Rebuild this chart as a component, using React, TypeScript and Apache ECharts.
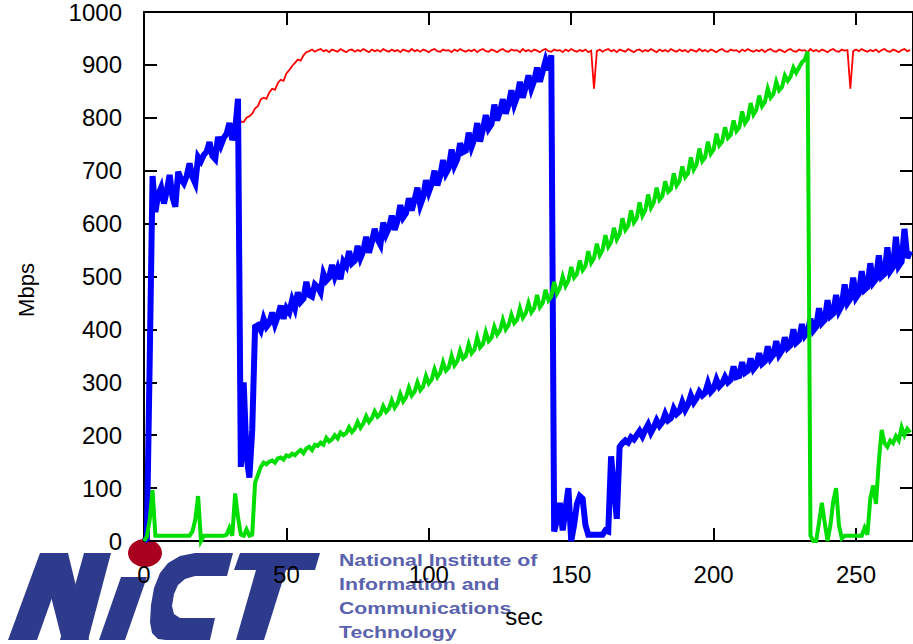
import React, { useEffect, useRef } from "react";
import * as echarts from "echarts";

// Sampling period of the throughput traces, seconds
const SAMPLE_SECONDS = 1;

// Flow 1 throughput (Mbps), one sample per second from t = 0
const blueMbps = [
  0, 5, 340, 690, 622, 655, 668, 638, 662, 692,
  650, 632, 698, 684, 676, 690, 714, 688, 676, 726,
  718, 730, 736, 754, 728, 722, 764, 748, 762, 770,
  790, 758, 776, 836, 140, 300, 160, 120, 210, 405,
  408, 398, 420, 405, 412, 432, 410, 425, 445, 420,
  440, 432, 455, 440, 470, 452, 458, 490, 465, 462,
  485, 480, 470, 505, 492, 498, 522, 500, 515, 495,
  528, 520, 548, 525, 530, 558, 535, 548, 575, 545,
  565, 590, 570, 560, 602, 580, 592, 615, 588, 605,
  635, 612, 620, 648, 625, 645, 668, 635, 650, 682,
  660, 675, 700, 672, 690, 720, 695, 705, 740, 710,
  722, 752, 735, 738, 772, 745, 760, 790, 755, 778,
  805, 780, 788, 825, 795, 812, 835, 808, 825, 852,
  825, 840, 868, 838, 858, 880, 855, 870, 895, 868,
  888, 908, 890, 918, 18, 40, 72, 20, 60, 100,
  0, 30, 70, 85, 80, 30, 12, 12, 12, 12,
  12, 12, 20, 18, 160, 100, 42, 178, 185, 190,
  186, 196, 192, 200, 208, 198, 210, 220, 205, 215,
  228, 218, 225, 240, 228, 232, 250, 240, 245, 262,
  248, 258, 275, 262, 270, 282, 275, 280, 298, 282,
  288, 305, 292, 298, 310, 300, 305, 330, 310, 312,
  338, 318, 322, 345, 325, 332, 355, 335, 340, 368,
  345, 352, 378, 352, 360, 385, 365, 370, 400, 375,
  380, 410, 388, 395, 420, 398, 405, 440, 412, 418,
  455, 425, 430, 465, 435, 445, 485, 450, 458, 498,
  460, 468, 510, 475, 480, 525, 488, 495, 540, 500,
  505, 555, 510, 518, 575, 520, 528, 590, 535, 548,
];

// Flow 2 throughput (Mbps), one sample per second from t = 0
const greenMbps = [
  0, 8, 40, 96, 10, 10, 10, 10, 10, 10,
  10, 10, 10, 10, 10, 10, 10, 18, 40, 85,
  0, 10, 10, 10, 10, 10, 10, 10, 10, 12,
  25, 10, 90, 45, 12, 10, 22, 10, 12, 110,
  125, 140, 148, 145, 150, 152, 148, 156, 158, 154,
  162, 160, 165, 162, 168, 172, 166, 175, 178, 172,
  182, 180, 186, 182, 195, 188, 192, 200, 194, 205,
  200, 204, 215, 206, 212, 225, 214, 222, 236, 225,
  232, 245, 235, 240, 255, 244, 250, 266, 252, 260,
  278, 264, 272, 290, 275, 282, 300, 285, 292, 312,
  298, 305, 325, 310, 318, 338, 322, 328, 350, 332,
  340, 360, 345, 350, 372, 355, 362, 385, 366, 372,
  395, 378, 384, 405, 390, 398, 418, 400, 408, 428,
  412, 418, 440, 422, 430, 450, 432, 440, 465, 442,
  450, 475, 455, 462, 490, 468, 478, 500, 482, 492,
  518, 498, 505, 530, 512, 520, 548, 526, 535, 562,
  540, 550, 578, 556, 565, 592, 570, 580, 610, 588,
  596, 625, 602, 610, 640, 615, 625, 655, 630, 640,
  668, 645, 652, 680, 660, 665, 695, 672, 680, 708,
  688, 695, 725, 702, 712, 742, 718, 725, 755, 732,
  740, 770, 748, 755, 782, 762, 768, 795, 775, 782,
  812, 790, 798, 828, 806, 815, 842, 822, 830, 855,
  838, 845, 868, 852, 858, 880, 870, 878, 895, 885,
  895, 905, 910, 925, 10, 0, 0, 35, 72, 35,
  0, 30, 75, 100, 30, 5, 10, 10, 10, 10,
  10, 10, 10, 25, 12, 80, 105, 70, 150, 210,
  185, 178, 190, 185, 198, 190, 215, 200, 212, 205,
];

// Aggregate link throughput (Mbps), recorded from t = 33 s onward
const RED_START_SECONDS = 33;
const redMbps = [
  790, 793, 792, 800, 803, 808, 818, 822, 835, 838,
  836, 848, 855, 853, 866, 872, 870, 884, 890, 898,
  904, 910, 908, 918, 924,
  926, 929, 925, 928, 930, 926, 928, 924, 929, 927,
  925, 930, 927, 924, 928, 929, 925, 928, 926, 930,
  927, 924, 929, 926, 928, 925, 930, 927, 925, 929,
  926, 928, 924, 929, 927, 925, 930, 926, 928, 925,
  929, 927, 924, 928, 930, 926, 925, 929, 927, 928,
  924, 929, 926, 930, 927, 925, 928, 926, 929, 924,
  928, 930, 926, 925, 929, 927, 924, 928, 930, 926,
  925, 929, 927, 928, 924, 930, 926, 928, 925, 929,
  927, 924, 928, 930, 926, 925, 929, 927, 928, 924,
  929, 926, 930, 927, 925, 928, 926, 929, 924, 927,
  855, 926, 929, 925, 928, 930, 926, 928, 924, 929,
  927, 925, 930, 927, 924, 928, 929, 925, 928, 926,
  930, 927, 924, 929, 926, 928, 925, 930, 927, 925,
  929, 926, 928, 924, 929, 927, 925, 930, 926, 928,
  925, 929, 927, 924, 928, 930, 926, 925, 929, 927,
  928, 924, 929, 926, 930, 927, 925, 928, 926, 929,
  924, 928, 930, 926, 925, 929, 927, 924, 928, 930,
  926, 925, 929, 927, 928, 924, 930, 926, 928, 925,
  929, 927, 924, 928, 930, 926, 925, 929, 927, 928,
  855, 926, 929, 926, 930, 927, 925, 928, 926, 929,
  924, 928, 930, 926, 925, 929, 927, 924, 928, 930, 926, 928,
];

// Axis ranges and tick steps
const X_MAX = 270;
const X_STEP = 50;
const Y_MAX = 1000;
const Y_STEP = 100;

const AXIS_FONT = "Liberation Sans, Arial, Helvetica, sans-serif";

const toPairs = (values: number[], startSeconds: number) =>
  values.map((v, i) => [startSeconds + i * SAMPLE_SECONDS, v]);

// Institute logo drawn in the lower-left corner
const NAVY = "#2e3a8c";
const LOGO_TEXT = "#5a62ad";
const logoElements: any[] = [
  // N
  { type: "polygon", shape: { points: [[40, 553], [68, 553], [37, 640], [8, 640]] } },
  { type: "polygon", shape: { points: [[40, 553], [68, 553], [89, 640], [62, 640]] } },
  { type: "polygon", shape: { points: [[84, 553], [111, 553], [88, 640], [60, 640]] } },
  // i stem
  { type: "polygon", shape: { points: [[121, 577], [147, 577], [125, 640], [99, 640]] } },
  // C
  {
    type: "polygon",
    shape: {
      points: [
        [233, 553], [195, 553], [180, 556], [168, 563], [160, 573], [154, 588],
        [151, 605], [150, 622], [152, 633], [158, 639], [166, 640], [210, 640],
        [215, 618], [180, 618], [174, 614], [172, 606], [174, 594], [178, 585],
        [185, 579], [195, 576], [227, 576],
      ],
    },
  },
  // T
  { type: "polygon", shape: { points: [[240, 553], [320, 553], [315, 570], [234, 570]] } },
  { type: "polygon", shape: { points: [[256, 570], [286, 570], [264, 640], [236, 640]] } },
].map((el) => ({ ...el, z: -1, silent: true, style: { fill: NAVY } }));

const logoDot = {
  type: "ellipse",
  z: -1,
  silent: true,
  shape: { cx: 145, cy: 553, rx: 17, ry: 14 },
  style: { fill: "#a8001e" },
};

const logoLines = [
  "National Institute of",
  "Information and",
  "Communications",
  "Technology",
];
const logoLineY = [560, 584, 608, 632];

const logoTexts = logoLines.map((line, i) => ({
  type: "text",
  z: -1,
  silent: true,
  x: 339,
  y: logoLineY[i],
  scaleX: 1.25,
  style: {
    text: line,
    font: "bold 17px Liberation Sans, Arial, sans-serif",
    fill: LOGO_TEXT,
    textAlign: "left",
    textVerticalAlign: "middle",
  },
}));

export default function App() {
  const ref = useRef<HTMLDivElement>(null);

  useEffect(() => {
    if (!ref.current) return;
    const chart = echarts.init(ref.current, undefined, { renderer: "svg" });

    const axisLine = { show: true, onZero: false, lineStyle: { color: "#000", width: 2 } };
    const axisTick = { show: true, inside: true, length: 13, lineStyle: { color: "#000", width: 2 } };
    const plain = (v: number) => String(v);

    chart.setOption({
      animation: false,
      backgroundColor: "#fff",
      grid: { left: 144, top: 11, width: 774, height: 530, containLabel: false },
      xAxis: [
        {
          type: "value",
          position: "bottom",
          min: 0,
          max: X_MAX,
          interval: X_STEP,
          axisLine,
          axisTick,
          splitLine: { show: false },
          axisLabel: {
            margin: 21,
            fontSize: 24,
            color: "#000",
            fontFamily: AXIS_FONT,
            showMaxLabel: false,
            formatter: plain,
          },
        },
        {
          type: "value",
          position: "top",
          min: 0,
          max: X_MAX,
          interval: X_STEP,
          axisLine,
          axisTick,
          splitLine: { show: false },
          axisLabel: { show: false },
        },
      ],
      yAxis: [
        {
          type: "value",
          position: "left",
          min: 0,
          max: Y_MAX,
          interval: Y_STEP,
          axisLine,
          axisTick,
          splitLine: { show: false },
          axisLabel: { margin: 22, fontSize: 24, color: "#000", fontFamily: AXIS_FONT, formatter: plain },
        },
        {
          type: "value",
          position: "right",
          min: 0,
          max: Y_MAX,
          interval: Y_STEP,
          axisLine,
          axisTick,
          splitLine: { show: false },
          axisLabel: { show: false },
        },
      ],
      series: [
        {
          name: "total",
          type: "line",
          xAxisIndex: 0,
          yAxisIndex: 0,
          data: toPairs(redMbps, RED_START_SECONDS),
          showSymbol: false,
          clip: false,
          z: 2,
          lineStyle: { color: "#ff0000", width: 1.8, join: "miter" },
          emphasis: { disabled: true },
        },
        {
          name: "flow 1",
          type: "line",
          xAxisIndex: 0,
          yAxisIndex: 0,
          data: toPairs(blueMbps, 0),
          showSymbol: false,
          clip: false,
          z: 3,
          lineStyle: { color: "#0000ff", width: 6, join: "miter", miterLimit: 10 },
          emphasis: { disabled: true },
        },
        {
          name: "flow 2",
          type: "line",
          xAxisIndex: 0,
          yAxisIndex: 0,
          data: toPairs(greenMbps, 0),
          showSymbol: false,
          clip: false,
          z: 4,
          lineStyle: { color: "#00dd00", width: 4, join: "miter", miterLimit: 10 },
          emphasis: { disabled: true },
        },
      ],
      graphic: [
        ...logoElements,
        logoDot,
        ...logoTexts,
        {
          type: "text",
          x: 26,
          y: 290,
          rotation: Math.PI / 2,
          style: {
            text: "Mbps",
            font: "22px Liberation Sans, Arial, sans-serif",
            fill: "#000",
            textAlign: "center",
            textVerticalAlign: "middle",
          },
        },
        {
          type: "text",
          x: 524,
          y: 616,
          style: {
            text: "sec",
            font: "24px Liberation Sans, Arial, sans-serif",
            fill: "#000",
            textAlign: "center",
            textVerticalAlign: "middle",
          },
        },
      ],
    });

    return () => chart.dispose();
  }, []);

  return (
    <div
      ref={ref}
      style={{ position: "fixed", left: 0, top: 0, width: 913, height: 644, background: "#fff" }}
    />
  );
}
